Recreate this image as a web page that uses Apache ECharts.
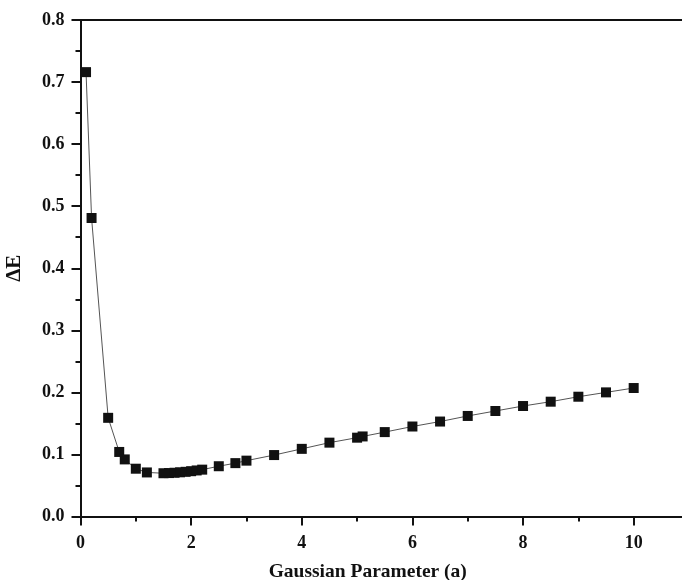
<!DOCTYPE html>
<html>
<head>
<meta charset="utf-8">
<script src="https://cdn.jsdelivr.net/npm/echarts@6/dist/echarts.min.js"></script>
<style>
  html, body { margin: 0; padding: 0; background: #fff; }
  #chart { width: 682px; height: 580px; }
</style>
</head>
<body>
<div id="chart"></div>
<script>
"use strict";

// Gaussian parameter a vs energy difference
const aValues = [0.1, 0.2, 0.5, 0.7, 0.8, 1.0, 1.2, 1.5, 1.6, 1.7, 1.8, 1.9, 2.0, 2.1, 2.2,
  2.5, 2.8, 3.0, 3.5, 4.0, 4.5, 5.0, 5.1, 5.5, 6.0, 6.5, 7.0, 7.5, 8.0, 8.5, 9.0, 9.5, 10.0];
const deltaE = [0.716, 0.481, 0.159, 0.104, 0.092, 0.077, 0.071, 0.0697, 0.0700, 0.0705, 0.0712, 0.0720, 0.0730, 0.0742, 0.0755,
  0.081, 0.086, 0.090, 0.099, 0.109, 0.119, 0.127, 0.129, 0.136, 0.145, 0.153, 0.162, 0.170, 0.178, 0.185, 0.193, 0.200, 0.207];

const font = "Liberation Serif";
const ink = "#111";

const myChart = echarts.init(document.getElementById("chart"));

const axisLine = {show: true, onZero: false, lineStyle: {color: ink, width: 2}};

const option = {
	animation: false,
	backgroundColor: "#fff",
	grid: {left: 80.5, right: -7, top: 20, bottom: 63.5, containLabel: false, outerBoundsMode: "none"},
	xAxis: [{
		type: "value",
		min: 0,
		max: 11,
		interval: 2,
		name: "Gaussian Parameter (a)",
		nameLocation: "middle",
		nameGap: 45,
		nameTextStyle: {fontFamily: font, fontWeight: "bold", fontSize: 19.5, color: ink, padding: [0, 34, 0, 0]},
		axisLine: axisLine,
		axisTick: {show: true, length: 9, lineStyle: {color: ink, width: 2}},
		minorTick: {show: true, splitNumber: 2, length: 5, lineStyle: {color: ink, width: 2}},
		splitLine: {show: false},
		axisLabel: {fontFamily: font, fontWeight: "bold", fontSize: 18, color: ink, margin: 18, showMaxLabel: false}
	}, {
		type: "value",
		position: "top",
		min: 0,
		max: 11,
		axisLine: axisLine,
		axisTick: {show: false},
		axisLabel: {show: false},
		splitLine: {show: false}
	}],
	yAxis: {
		type: "value",
		min: 0,
		max: 0.8,
		interval: 0.1,
		name: "ΔE",
		nameLocation: "middle",
		nameGap: 55,
		nameTextStyle: {fontFamily: font, fontWeight: "bold", fontSize: 21, color: ink},
		axisLine: axisLine,
		axisTick: {show: true, length: 9, lineStyle: {color: ink, width: 2}},
		minorTick: {show: true, splitNumber: 2, length: 5, lineStyle: {color: ink, width: 2}},
		splitLine: {show: false},
		axisLabel: {
			fontFamily: font, fontWeight: "bold", fontSize: 18, color: ink, margin: 16,
			formatter: (v) => v.toFixed(1)
		}
	},
	series: [{
		type: "line",
		data: aValues.map((a, i) => [a, deltaE[i]]),
		symbol: "rect",
		symbolSize: 10,
		showAllSymbol: true,
		lineStyle: {color: "#555", width: 1},
		itemStyle: {color: ink, borderWidth: 0}
	}]
};

myChart.setOption(option);
</script>
</body>
</html>
